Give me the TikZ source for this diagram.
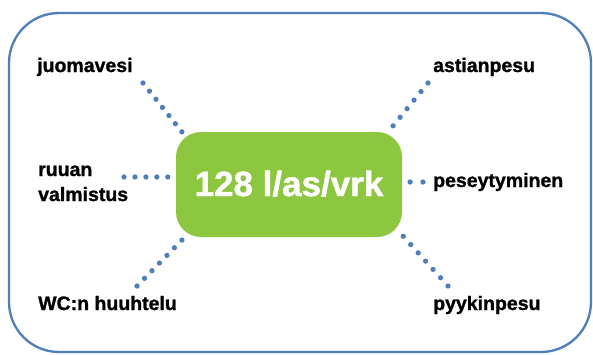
\documentclass[tikz,border=0pt]{standalone}
\usepackage{fontspec}
\setmainfont{Liberation Sans}
\newfontfamily\heavyfont[FakeBold=1.2]{Liberation Sans Bold}
\definecolor{frameblue}{HTML}{4F7EBB}
\definecolor{dotblue}{HTML}{4F7EBB}
\definecolor{boxgreen}{HTML}{8DC63F}
\begin{document}
\begin{tikzpicture}[x=1pt,y=-1pt,
  lbl/.style={anchor=base west,inner sep=0pt,font=\heavyfont\fontsize{19.5}{25}\selectfont,align=left},
  dotline/.style={draw=dotblue,line width=5.3pt,line cap=round,dash pattern=on 0pt off #1},
  frame/.style={draw=frameblue,line width=2.3pt,rounded corners=50pt},
  hub/.style={fill=boxgreen,rounded corners=25pt}]
\useasboundingbox (0,0) rectangle (593,354);
\draw[frame] (9,13) rectangle (591,352);
\fill[hub] (176,132) rectangle (402,237);
\node[anchor=base,inner sep=0pt,text=white,font=\heavyfont\fontsize{35}{38}\selectfont] (hub) at (289,196) {128 l/as/vrk};
% labels
\node[lbl] (juo) at (37,72) {juomavesi};
\node[lbl] (ast) at (433,72) {astianpesu};
\node[lbl] (ruu) at (38,201) {ruuan\\valmistus};
\node[lbl] (wc) at (38,310) {WC:n huuhtelu};
\node[lbl] (pes) at (433,187) {peseytyminen};
\node[lbl] (pyy) at (433,310) {pyykinpesu};
% connector endpoints
\coordinate (juoA) at (143,83);   \coordinate (juoB) at (182,132);
\coordinate (astA) at (428,83);   \coordinate (astB) at (393,126);
\coordinate (ruuA) at (124,177);  \coordinate (ruuB) at (168,177);
\coordinate (wcA) at (137,286);   \coordinate (wcB) at (182,240);
\coordinate (pesA) at (423,182);  \coordinate (pesB) at (410,182);
\coordinate (pyyA) at (448,286);  \coordinate (pyyB) at (403,236);
\draw[dotline=10.40pt] (juoA) -- (juoB);
\draw[dotline=11.05pt] (astA) -- (astB);
\draw[dotline=10.95pt] (ruuA) -- (ruuB);
\draw[dotline=10.70pt] (wcA) -- (wcB);
\draw[dotline=12.9pt] (pesA) -- (pesB);
\draw[dotline=11.15pt] (pyyA) -- (pyyB);
\end{tikzpicture}
\end{document}
